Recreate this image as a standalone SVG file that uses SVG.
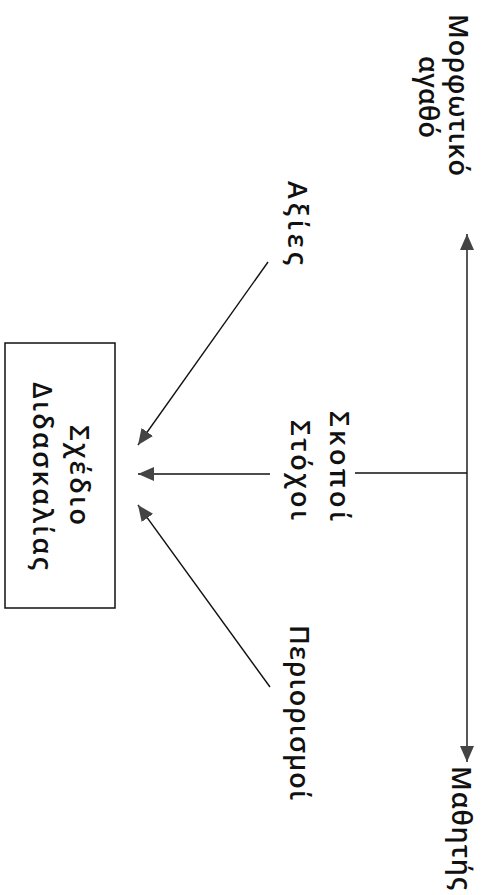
<svg xmlns="http://www.w3.org/2000/svg" width="481" height="895" viewBox="0 0 481 895">
<style>
text{font-family:"Open Sans","DejaVu Sans",sans-serif;font-size:27px;font-weight:600;fill:#111;}
.ln{stroke:#111;stroke-width:1.4;fill:none;}
.bx{stroke:#111;stroke-width:1.5;fill:none;}
</style>
<defs>
<marker id="ah" viewBox="0 0 16 14" refX="16" refY="7" markerWidth="16" markerHeight="14" markerUnits="userSpaceOnUse" orient="auto-start-reverse">
<path d="M0,0 L16,7 L0,14 Z" fill="#444"/>
</marker>
</defs>
<g id="connectors">
<line class="ln" x1="467" y1="234" x2="467" y2="762" marker-start="url(#ah)" marker-end="url(#ah)"/>
<line class="ln" x1="355" y1="473" x2="467" y2="473"/>
<line class="ln" x1="270" y1="474" x2="138" y2="474" marker-end="url(#ah)"/>
<line class="ln" x1="268" y1="262" x2="138" y2="445" marker-end="url(#ah)"/>
<line class="ln" x1="270" y1="687" x2="138" y2="505" marker-end="url(#ah)"/>
</g>
<g id="morfotiko">
<text transform="translate(449,14) rotate(90)" textLength="162" lengthAdjust="spacing">Μορφωτικό</text>
<text transform="translate(419,56) rotate(90)" textLength="82" lengthAdjust="spacing">αγαθό</text>
</g>
<g id="mathitis">
<text transform="translate(452,766) rotate(90)" textLength="124" lengthAdjust="spacing">Μαθητής</text>
</g>
<g id="axies">
<text transform="translate(288,181) rotate(90)" textLength="84" lengthAdjust="spacing">Αξίες</text>
</g>
<g id="skopoi">
<text transform="translate(330,411) rotate(90)" textLength="110" lengthAdjust="spacing">Σκοποί</text>
<text transform="translate(291,420) rotate(90)" textLength="100" lengthAdjust="spacing">Στόχοι</text>
</g>
<g id="periorismoi">
<text transform="translate(290,625) rotate(90)" textLength="175" lengthAdjust="spacing">Περιορισμοί</text>
</g>
<g id="sxedio">
<rect class="bx" x="5" y="343" width="110" height="265"/>
<text transform="translate(70,425) rotate(90)" textLength="100" lengthAdjust="spacing">Σχέδιο</text>
<text transform="translate(33,382) rotate(90)" textLength="188" lengthAdjust="spacing">Διδασκαλίας</text>
</g>
</svg>
